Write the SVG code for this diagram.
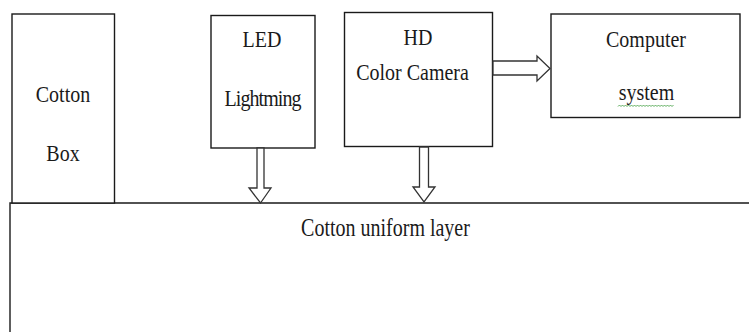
<svg xmlns="http://www.w3.org/2000/svg" width="749" height="332" viewBox="0 0 749 332">
<style>
.box{fill:#fff;stroke:#1a1a1a;stroke-width:1.4}
.t{font-family:"Liberation Serif","Times New Roman",serif;font-size:20px;fill:#1a1a1a;text-anchor:middle}
.arr{fill:#fff;stroke:#333;stroke-width:1.3;stroke-linejoin:miter}
</style>
<rect width="749" height="332" fill="#fff"/>
<g id="layer">
<path class="box" d="M10 332 V203 H749"/>
<text class="t" transform="translate(385.5,235.5) scale(1,1.24)">Cotton uniform layer</text>
</g>
<g id="cotton-box">
<rect class="box" x="12" y="14" width="102.5" height="189"/>
<text class="t" transform="translate(63,102) scale(1,1.2)">Cotton</text>
<text class="t" transform="translate(63,161) scale(1,1.2)">Box</text>
</g>
<g id="led">
<rect class="box" x="211" y="15.5" width="104" height="132.5"/>
<text class="t" transform="translate(262,47) scale(1,1.2)">LED</text>
<text class="t" transform="translate(263,106) scale(1,1.2)" textLength="77">Lightming</text>
</g>
<g id="camera">
<rect class="box" x="344.5" y="12.5" width="148" height="134"/>
<text class="t" transform="translate(418,45) scale(1,1.2)">HD</text>
<text class="t" transform="translate(412.5,80) scale(1,1.2)">Color Camera</text>
</g>
<g id="computer">
<rect class="box" x="551" y="14" width="189" height="103.5"/>
<text class="t" transform="translate(646,46.5) scale(1,1.2)">Computer</text>
<text class="t" transform="translate(646.5,100) scale(1,1.2)">system</text>
<path d="M618 106.5 l1.5 -1.5 l1.5 1.5 l1.5 -1.5 l1.5 1.5 l1.5 -1.5 l1.5 1.5 l1.5 -1.5 l1.5 1.5 l1.5 -1.5 l1.5 1.5 l1.5 -1.5 l1.5 1.5 l1.5 -1.5 l1.5 1.5 l1.5 -1.5 l1.5 1.5 l1.5 -1.5 l1.5 1.5 l1.5 -1.5 l1.5 1.5 l1.5 -1.5 l1.5 1.5 l1.5 -1.5 l1.5 1.5 l1.5 -1.5 l1.5 1.5 l1.5 -1.5 l1.5 1.5 l1.5 -1.5 l1.5 1.5 l1.5 -1.5 l1.5 1.5 l1.5 -1.5 l1.5 1.5 l1.5 -1.5 l1.5 1.5 l1.5 -1.5" fill="none" stroke="#3a9a3a" stroke-width="0.8"/>
</g>
<g id="connectors">
<polygon class="arr" points="257,148 264,148 264,188 271,188 260.5,203 249,188 257,188"/>
<polygon class="arr" points="419.5,147 428.5,147 428.5,187 435,187 424,202 413,187 419.5,187"/>
<polygon class="arr" points="493,61 537,61 537,56 550,68.5 537,81 537,75 493,75"/>
</g>
</svg>
